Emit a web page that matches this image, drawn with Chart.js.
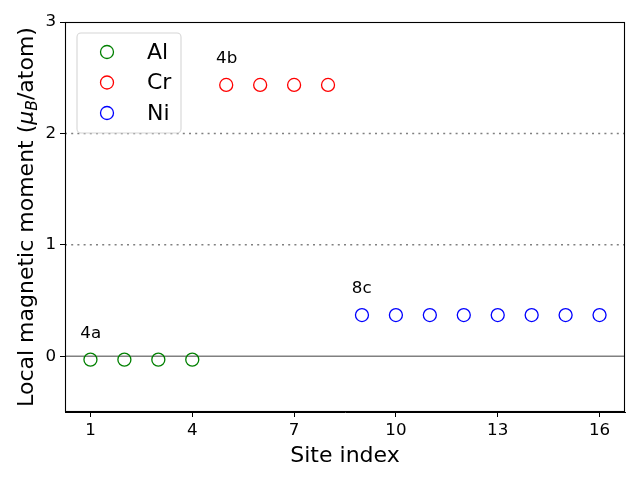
<!DOCTYPE html>
<html>
<head>
<meta charset="utf-8">
<script src="https://cdn.jsdelivr.net/npm/chart.js@4"></script>
<style>
  body { margin: 0; background: #fff; }
  #wrap { width: 640px; height: 480px; }
</style>
</head>
<body>
<div id="wrap"><canvas id="chart" width="640" height="480"></canvas></div>
<script>
// site data
var alSites = [1, 2, 3, 4]
var alMoments = [-0.03, -0.03, -0.03, -0.03]
var crSites = [5, 6, 7, 8]
var crMoments = [2.435, 2.435, 2.435, 2.435]
var niSites = [9, 10, 11, 12, 13, 14, 15, 16]
var niMoments = [0.37, 0.37, 0.37, 0.37, 0.37, 0.37, 0.37, 0.37]

var xTicks = [1, 4, 7, 10, 13, 16]
var yTicks = [0, 1, 2, 3]
var dottedLevels = [1, 2]
var wyckoffLabels = ['4a', '4b', '8c']

var font = "'DejaVu Sans', sans-serif"

function toPoints(xs, ys) {
  return xs.map(function (x, i) { return { x: x, y: ys[i] } })
}

var overlay = {
  id: 'overlay',
  beforeDatasetsDraw: function (chart) {
    var ctx = chart.ctx
    var a = chart.chartArea
    var ys = chart.scales.y
    ctx.save()
    ctx.strokeStyle = 'gray'
    ctx.lineWidth = 1.5
    // solid zero line
    var y0 = ys.getPixelForValue(0)
    ctx.beginPath(); ctx.moveTo(a.left, y0); ctx.lineTo(a.right, y0); ctx.stroke()
    // dotted guide lines
    ctx.setLineDash([2, 4.2])
    dottedLevels.forEach(function (v) {
      var y = ys.getPixelForValue(v)
      ctx.beginPath(); ctx.moveTo(a.left, y); ctx.lineTo(a.right, y); ctx.stroke()
    })
    ctx.restore()
  },
  afterDatasetsDraw: function (chart) {
    var ctx = chart.ctx
    var a = chart.chartArea
    var xs = chart.scales.x
    var ys = chart.scales.y
    ctx.save()
    // frame
    ctx.strokeStyle = '#000'
    ctx.lineWidth = 1.1
    ctx.strokeRect(a.left + 0.5, a.top + 0.5, a.right - a.left - 1, a.bottom - a.top - 1)

    // wyckoff labels
    ctx.fillStyle = '#000'
    ctx.font = '16.7px ' + font
    ctx.textAlign = 'left'
    ctx.textBaseline = 'bottom'
    chart.data.datasets.forEach(function (ds, i) {
      var p = ds.data[0]
      ctx.fillText(wyckoffLabels[i], xs.getPixelForValue(p.x - 0.3), ys.getPixelForValue(p.y + 0.2) + 4.5)
    })

    // legend
    var lx = 77, ly = 33, lw = 104, lh = 100, r = 4
    ctx.beginPath()
    ctx.moveTo(lx + r, ly)
    ctx.arcTo(lx + lw, ly, lx + lw, ly + lh, r)
    ctx.arcTo(lx + lw, ly + lh, lx, ly + lh, r)
    ctx.arcTo(lx, ly + lh, lx, ly, r)
    ctx.arcTo(lx, ly, lx + lw, ly, r)
    ctx.closePath()
    ctx.fillStyle = 'rgba(255,255,255,0.8)'
    ctx.fill()
    ctx.strokeStyle = '#d6d6d6'
    ctx.stroke()
    ctx.font = '22px ' + font
    ctx.textBaseline = 'middle'
    chart.data.datasets.forEach(function (ds, i) {
      var cy = 52 + i * 30.5
      ctx.beginPath()
      ctx.arc(107, cy, 6.5, 0, Math.PI * 2)
      ctx.strokeStyle = ds.borderColor
      ctx.lineWidth = 1.3
      ctx.stroke()
      ctx.fillStyle = '#000'
      ctx.fillText(ds.label, 147, cy + 1)
    })

    // axis titles
    ctx.font = '22px ' + font
    ctx.textAlign = 'center'
    ctx.textBaseline = 'alphabetic'
    ctx.fillText('Site index', (a.left + a.right) / 2, 462)

    ctx.translate(33, (a.top + a.bottom) / 2)
    ctx.rotate(-Math.PI / 2)
    var parts = [
      { t: 'Local magnetic moment (', f: '22px ' + font, dy: 0 },
      { t: 'μ', f: 'italic 22px ' + font, dy: 0 },
      { t: 'B', f: 'italic 15.5px ' + font, dy: 4 },
      { t: '/atom)', f: '22px ' + font, dy: 0 }
    ]
    var total = 0
    parts.forEach(function (p) { ctx.font = p.f; p.w = ctx.measureText(p.t).width; total += p.w })
    var cx = -total / 2
    ctx.textAlign = 'left'
    parts.forEach(function (p) {
      ctx.font = p.f
      ctx.fillText(p.t, cx, p.dy)
      cx += p.w
    })
    ctx.restore()
  }
}

new Chart(document.getElementById('chart'), {
  type: 'scatter',
  data: {
    datasets: [
      { label: 'Al', data: toPoints(alSites, alMoments), borderColor: 'green' },
      { label: 'Cr', data: toPoints(crSites, crMoments), borderColor: 'red' },
      { label: 'Ni', data: toPoints(niSites, niMoments), borderColor: 'blue' }
    ]
  },
  options: {
    responsive: false,
    animation: false,
    layout: { padding: { top: 22, right: 15, left: 0, bottom: 0 } },
    elements: {
      point: { radius: 6.5, hoverRadius: 6.5, borderWidth: 1.3, backgroundColor: 'rgba(0,0,0,0)' }
    },
    plugins: {
      legend: { display: false },
      tooltip: { enabled: false }
    },
    scales: {
      x: {
        type: 'linear',
        min: 0.25,
        max: 16.75,
        afterBuildTicks: function (s) { s.ticks = xTicks.map(function (v) { return { value: v } }) },
        afterFit: function (s) { s.height = 68 },
        grid: { drawOnChartArea: false, tickLength: 5, color: '#000' },
        border: { color: '#000' },
        ticks: { padding: 3.5, color: '#000', font: { family: font, size: 16.7 } }
      },
      y: {
        type: 'linear',
        min: -0.5,
        max: 3,
        afterBuildTicks: function (s) { s.ticks = yTicks.map(function (v) { return { value: v } }) },
        afterFit: function (s) { s.width = 65 },
        grid: { drawOnChartArea: false, tickLength: 5, color: '#000' },
        border: { color: '#000' },
        ticks: { padding: 4, color: '#000', font: { family: font, size: 16.7 } }
      }
    }
  },
  plugins: [overlay]
})
</script>
</body>
</html>
